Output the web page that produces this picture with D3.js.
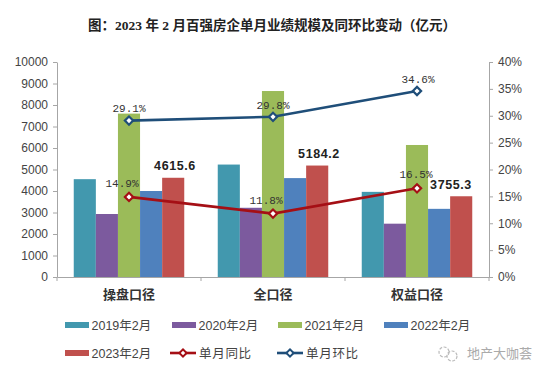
<!DOCTYPE html>
<html>
<head>
<meta charset="utf-8">
<script src="https://cdn.jsdelivr.net/npm/d3@7"></script>
<style>
  html, body { margin: 0; padding: 0; background: #fff; }
  text { font-family: "Liberation Sans", "Noto Sans CJK SC", sans-serif; fill: #404040; }
</style>
</head>
<body>
<div id="chart"></div>
<script>
var categories = ['操盘口径', '全口径', '权益口径']
var years = ['2019年2月', '2020年2月', '2021年2月', '2022年2月', '2023年2月']

var values2019 = [4550, 5230, 3960]
var values2020 = [2930, 3220, 2480]
var values2021 = [7600, 8650, 6140]
var values2022 = [4000, 4600, 3170]
var values2023 = [4615.6, 5184.2, 3755.3]
var barSeries = [values2019, values2020, values2021, values2022, values2023]
var barColors = ['#4298ae', '#7c5a9e', '#9bbb59', '#4f81bd', '#c0504d']

var yoy = [14.9, 11.8, 16.5]
var mom = [29.1, 29.8, 34.6]
var yoyName = '单月同比'
var momName = '单月环比'

var leftTicks = [0, 1000, 2000, 3000, 4000, 5000, 6000, 7000, 8000, 9000, 10000]
var rightTicks = [0, 5, 10, 15, 20, 25, 30, 35, 40]

var width = 550
var height = 378
var plot = { left: 57, right: 489, top: 62, bottom: 277 }

var svg = d3.select('#chart')
  .append('svg')
  .attr('width', width)
  .attr('height', height)
  .style('display', 'block')

var x = d3.scaleBand()
  .domain(categories)
  .range([plot.left, plot.right])

var xBar = d3.scaleBand()
  .domain(d3.range(years.length))
  .range([0, 110.5])

var y = d3.scaleLinear().domain([0, 10000]).range([plot.bottom, plot.top])
var yRight = d3.scaleLinear().domain([0, 40]).range([plot.bottom, plot.top])

// title
svg.append('text')
  .attr('x', 272)
  .attr('y', 30)
  .attr('text-anchor', 'middle')
  .style('font-family', '"Liberation Serif", "Noto Sans CJK SC", serif')
  .style('font-size', '13.5px')
  .style('font-weight', 'bold')
  .style('fill', '#222')
  .text('图：2023 年 2 月百强房企单月业绩规模及同环比变动（亿元）')

// bars
barSeries.forEach(function (series, s) {
  svg.append('g')
    .selectAll('rect')
    .data(series)
    .enter()
    .append('rect')
    .attr('x', function (d, i) {
      return x(categories[i]) + (x.bandwidth() - 110.5) / 2 + xBar(s)
    })
    .attr('y', function (d) { return y(d) })
    .attr('width', xBar.bandwidth())
    .attr('height', function (d) { return plot.bottom - y(d) })
    .attr('fill', barColors[s])
})

// axes
function styleAxis (g) {
  g.selectAll('path, line').attr('stroke', '#a6a6a6')
  g.selectAll('text').style('font-size', '12px').style('fill', '#444')
}

svg.append('g')
  .attr('transform', 'translate(' + plot.left + ',0)')
  .call(d3.axisLeft(y).tickValues(leftTicks).tickSize(4).tickSizeOuter(0).tickPadding(5).tickFormat(d3.format('d')))
  .call(styleAxis)

svg.append('g')
  .attr('transform', 'translate(' + plot.right + ',0)')
  .call(d3.axisRight(yRight).tickValues(rightTicks).tickSize(4).tickSizeOuter(0).tickPadding(5).tickFormat(function (d) { return d + '%' }))
  .call(styleAxis)

var xAxis = svg.append('g')
  .attr('transform', 'translate(0,' + plot.bottom + ')')
  .call(d3.axisBottom(x).tickSize(0).tickPadding(13))
  .call(styleAxis)
xAxis.selectAll('text')
  .style('font-size', '13px')
  .style('font-weight', 'bold')
  .style('fill', '#333')

// group boundary ticks on the category axis
svg.append('g')
  .selectAll('line')
  .data(categories)
  .enter()
  .append('line')
  .attr('x1', function (d) { return x(d) })
  .attr('x2', function (d) { return x(d) })
  .attr('y1', plot.bottom)
  .attr('y2', plot.bottom + 4)
  .attr('stroke', '#a6a6a6')
svg.append('line')
  .attr('x1', plot.right).attr('x2', plot.right)
  .attr('y1', plot.bottom).attr('y2', plot.bottom + 4)
  .attr('stroke', '#a6a6a6')

// lines and markers
function drawLine (series, color) {
  var line = d3.line()
    .x(function (d, i) { return x(categories[i]) + x.bandwidth() / 2 })
    .y(function (d) { return yRight(d) })
  svg.append('path')
    .datum(series)
    .attr('d', line)
    .attr('fill', 'none')
    .attr('stroke', color)
    .attr('stroke-width', 2.6)
  svg.append('g')
    .selectAll('path')
    .data(series)
    .enter()
    .append('path')
    .attr('d', d3.symbol().type(d3.symbolSquare).size(34))
    .attr('transform', function (d, i) {
      return 'translate(' + (x(categories[i]) + x.bandwidth() / 2) + ',' + yRight(d) + ') rotate(45)'
    })
    .attr('fill', '#fff')
    .attr('stroke', color)
    .attr('stroke-width', 2.2)
}

drawLine(mom, '#1f4e79')
drawLine(yoy, '#a50f15')

// data labels, nudged off the markers the way the original has them
var pctOffsets = {
  yoy: [[-7, -10], [-7, -10], [-1, -10]],
  mom: [[0, -9], [0, -8], [1, -8]]
}

function pctLabels (series, offsets) {
  svg.append('g')
    .selectAll('text')
    .data(series)
    .enter()
    .append('text')
    .attr('x', function (d, i) { return x(categories[i]) + x.bandwidth() / 2 + offsets[i][0] })
    .attr('y', function (d, i) { return yRight(d) + offsets[i][1] })
    .attr('text-anchor', 'middle')
    .style('font-family', '"Liberation Mono", monospace')
    .style('font-size', '11px')
    .style('fill', '#333')
    .text(function (d) { return d.toFixed(1) + '%' })
}
pctLabels(yoy, pctOffsets.yoy)
pctLabels(mom, pctOffsets.mom)

var barLabelOffsets = [[46, -8], [46, -8], [34, -7]]
svg.append('g')
  .selectAll('text')
  .data(values2023)
  .enter()
  .append('text')
  .attr('x', function (d, i) { return x(categories[i]) + x.bandwidth() / 2 + barLabelOffsets[i][0] })
  .attr('y', function (d, i) { return y(d) + barLabelOffsets[i][1] })
  .attr('text-anchor', 'middle')
  .style('font-size', '12.5px')
  .style('font-weight', 'bold')
  .style('letter-spacing', '0.6px')
  .style('fill', '#222')
  .text(function (d) { return d.toFixed(1) })

// legend
var legendBars = [
  { name: years[0], color: barColors[0], x: 65, y: 325 },
  { name: years[1], color: barColors[1], x: 172, y: 325 },
  { name: years[2], color: barColors[2], x: 278, y: 325 },
  { name: years[3], color: barColors[3], x: 384, y: 325 },
  { name: years[4], color: barColors[4], x: 65, y: 353 }
]
var legend = svg.append('g')
legend.selectAll('rect')
  .data(legendBars)
  .enter()
  .append('rect')
  .attr('x', function (d) { return d.x })
  .attr('y', function (d) { return d.y - 3 })
  .attr('width', 24)
  .attr('height', 6)
  .attr('fill', function (d) { return d.color })
legend.selectAll('text')
  .data(legendBars)
  .enter()
  .append('text')
  .attr('x', function (d) { return d.x + 26.5 })
  .attr('y', function (d) { return d.y + 4.5 })
  .style('font-size', '12.5px')
  .style('fill', '#444')
  .text(function (d) { return d.name })

var legendLines = [
  { name: yoyName, color: '#a50f15', x: 170, y: 353 },
  { name: momName, color: '#1f4e79', x: 277, y: 353 }
]
legendLines.forEach(function (d) {
  legend.append('line')
    .attr('x1', d.x).attr('x2', d.x + 26)
    .attr('y1', d.y).attr('y2', d.y)
    .attr('stroke', d.color)
    .attr('stroke-width', 2.6)
  legend.append('path')
    .attr('d', d3.symbol().type(d3.symbolSquare).size(26))
    .attr('transform', 'translate(' + (d.x + 13) + ',' + d.y + ') rotate(45)')
    .attr('fill', '#fff')
    .attr('stroke', d.color)
    .attr('stroke-width', 2)
  legend.append('text')
    .attr('x', d.x + 29)
    .attr('y', d.y + 4.5)
    .style('font-size', '12.5px')
    .style('letter-spacing', '0.7px')
    .style('fill', '#444')
    .text(d.name)
})

// watermark
var mark = svg.append('g').attr('transform', 'translate(449,354)')
mark.append('circle').attr('cx', -5).attr('cy', -2).attr('r', 5).attr('fill', 'none').attr('stroke', '#bbb').attr('stroke-width', 1.2).attr('stroke-dasharray', '3 1.5')
mark.append('circle').attr('cx', 3).attr('cy', 2).attr('r', 5).attr('fill', 'none').attr('stroke', '#bbb').attr('stroke-width', 1.2).attr('stroke-dasharray', '3 1.5')
svg.append('text')
  .attr('x', 467)
  .attr('y', 358)
  .style('font-size', '13px')
  .style('fill', '#aaa')
  .text('地产大咖荟')
</script>
</body>
</html>
